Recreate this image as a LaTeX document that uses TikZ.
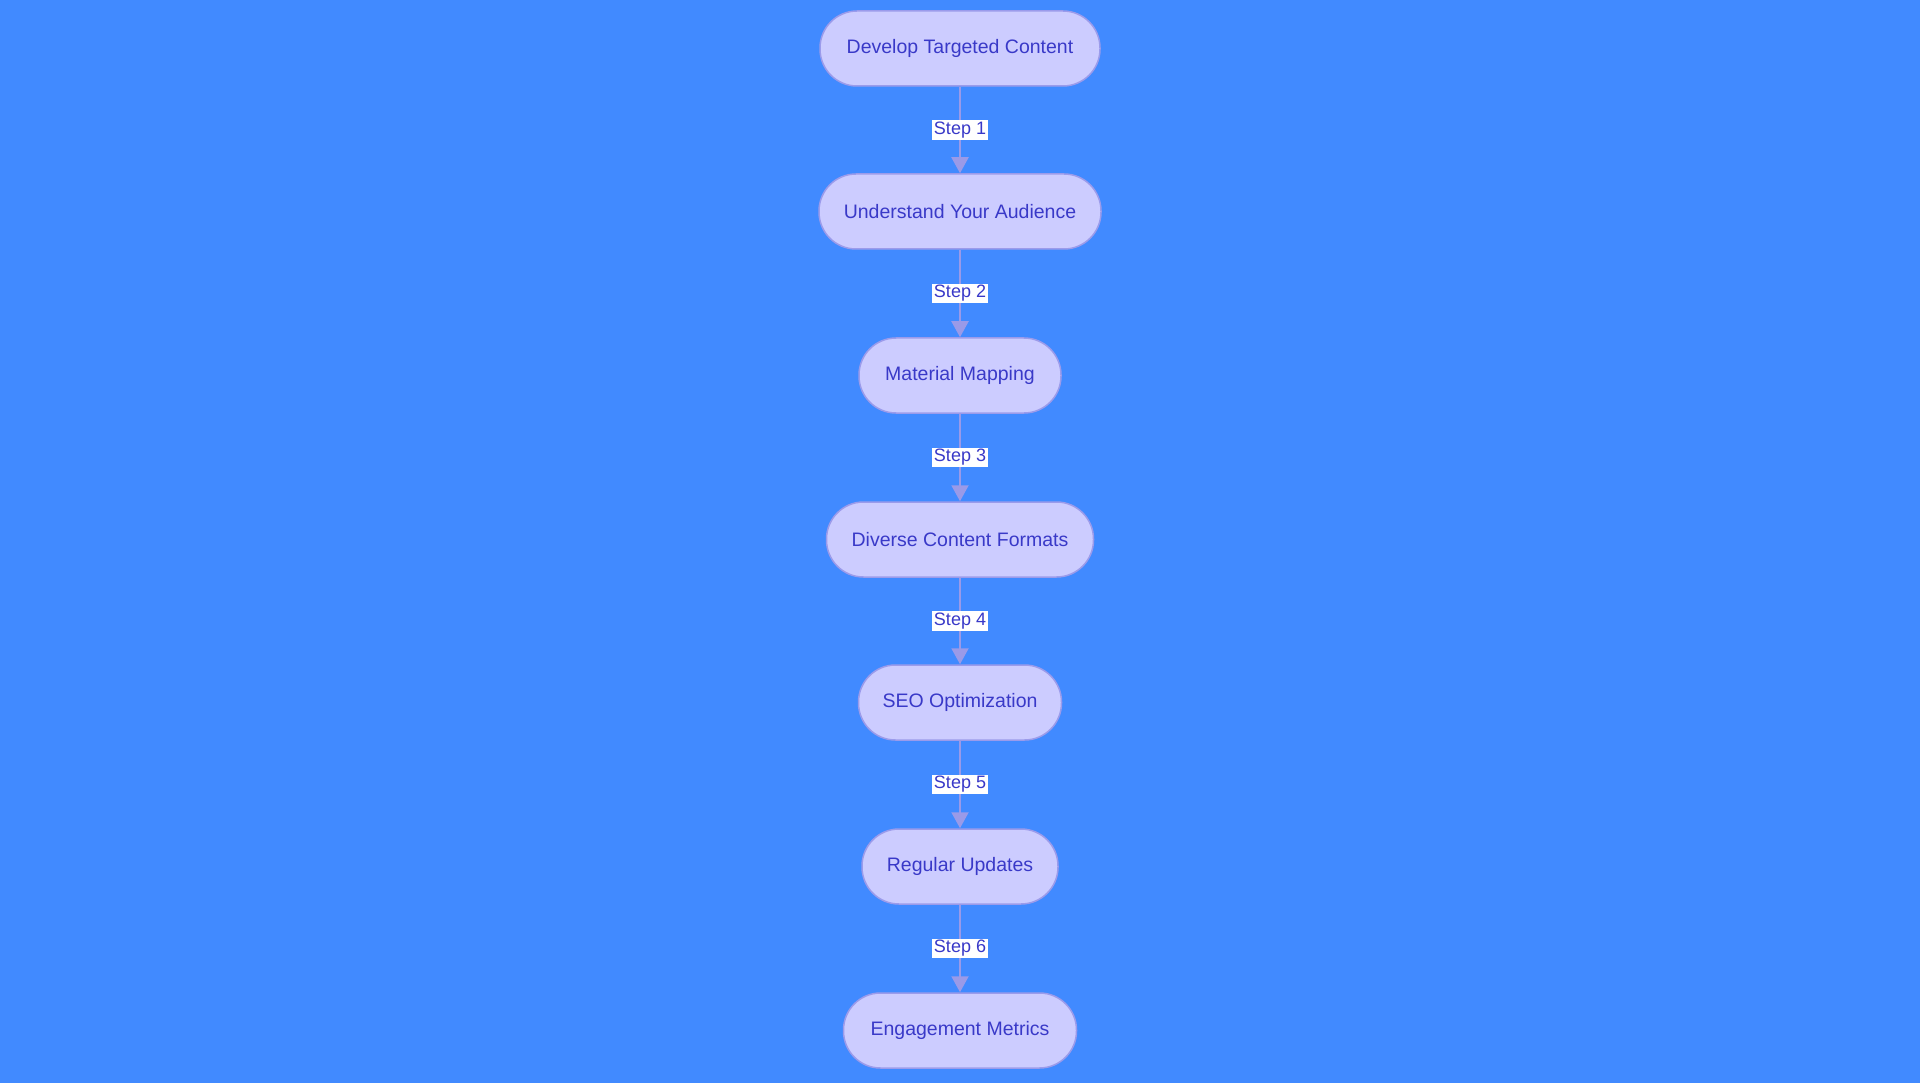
\documentclass[tikz,border=0pt]{standalone}
\usepackage{fontspec}
\setmainfont{Liberation Sans}
\usetikzlibrary{arrows.meta}
\definecolor{bgblue}{RGB}{65,138,255}
\definecolor{boxfill}{RGB}{204,204,255}
\definecolor{boxline}{RGB}{155,155,235}
\definecolor{inktext}{RGB}{57,57,200}
\definecolor{flowline}{RGB}{154,154,232}
\begin{document}
\begin{tikzpicture}[x=1pt, y=-1pt,
  stage/.style={shape=rectangle, rounded corners=37pt, draw=boxline, line width=1.5pt, fill=boxfill,
    text=inktext, minimum height=75pt, font=\fontsize{19.5}{22}\selectfont},
  flow/.style={-{Triangle[width=17pt,length=16pt]}, line width=2pt, draw=flowline},
  steplabel/.style={fill=white, text=inktext, inner sep=1.5pt, font=\fontsize{18}{20}\selectfont}]
\fill[bgblue] (0,0) rectangle (1920,1083);
\node[stage, minimum width=280pt] (N1) at (960, 48.5) {Develop Targeted Content};
\node[stage, minimum width=282pt] (N2) at (960, 211.5) {Understand Your Audience};
\node[stage, minimum width=202pt] (N3) at (960, 375.5) {Material Mapping};
\node[stage, minimum width=267pt] (N4) at (960, 539.5) {Diverse Content Formats};
\node[stage, minimum width=203pt] (N5) at (960, 702.5) {SEO Optimization};
\node[stage, minimum width=196pt] (N6) at (960, 866.5) {Regular Updates};
\node[stage, minimum width=233pt] (N7) at (960, 1030.5) {Engagement Metrics};
\draw[flow] (N1) -- node[steplabel] {Step 1} (N2);
\draw[flow] (N2) -- node[steplabel] {Step 2} (N3);
\draw[flow] (N3) -- node[steplabel] {Step 3} (N4);
\draw[flow] (N4) -- node[steplabel] {Step 4} (N5);
\draw[flow] (N5) -- node[steplabel] {Step 5} (N6);
\draw[flow] (N6) -- node[steplabel] {Step 6} (N7);
\end{tikzpicture}
\end{document}
